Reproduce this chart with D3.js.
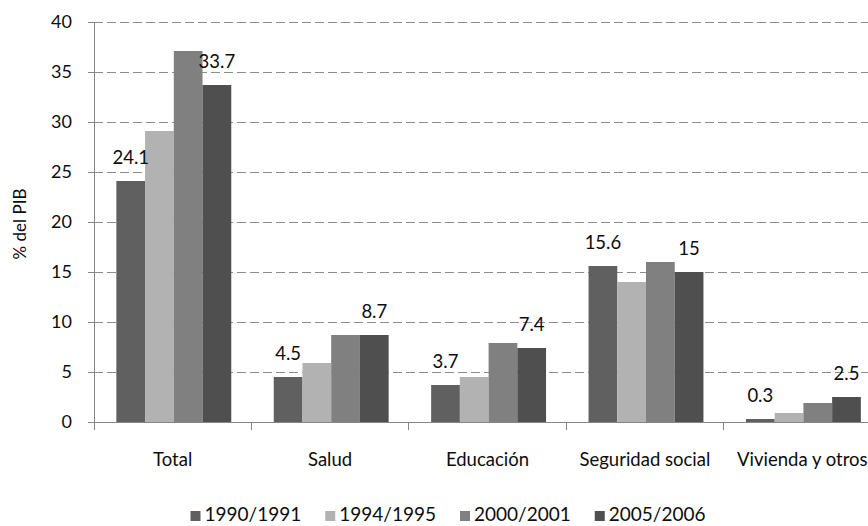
<!DOCTYPE html>
<html><head><meta charset="utf-8">
<script src="https://cdn.jsdelivr.net/npm/d3@7"></script>
<style>
html,body{margin:0;padding:0;background:#fff;overflow:hidden}
text{font-family:Lato,"Open Sans",sans-serif;fill:#0d0d0d}
</style></head>
<body>
<svg id="chart" width="868" height="526"></svg>
<script>
const categories = ["Total","Salud","Educación","Seguridad social","Vivienda y otros"];
const seriesNames = ["1990/1991","1994/1995","2000/2001","2005/2006"];
const v1990 = [24.1, 4.5, 3.7, 15.6, 0.3];
const v1994 = [29.1, 5.9, 4.5, 14.0, 0.9];
const v2000 = [37.1, 8.7, 7.9, 16.0, 1.9];
const v2005 = [33.7, 8.7, 7.4, 15.0, 2.5];
const labels1990 = ["24.1","4.5","3.7","15.6","0.3"];
const labels2005 = ["33.7","8.7","7.4","15","2.5"];
const yTicks = [0,5,10,15,20,25,30,35,40];
const yTitle = "% del PIB";

(function(){
const colors = ["#606060","#b2b2b2","#808080","#4f4f4f"];
const values = [v1990, v1994, v2000, v2005];

const svg = d3.select("#chart");
const mLeft = 94, mTop = 22, mBottom = 422;
const band = 157.4;
const x0 = d3.scaleBand().domain(categories).range([mLeft, mLeft + band*categories.length]).padding(0);
const bw = x0.bandwidth();
const x1 = d3.scaleBand().domain(seriesNames).range([bw*0.142, bw*0.872]).padding(0);
const y = d3.scaleLinear().domain([0,40]).range([mBottom, mTop]);
const axisColor = "#868686";

// gridlines
svg.append("g").selectAll("line").data(yTicks.filter(t=>t>0)).join("line")
  .attr("x1", mLeft).attr("x2", 868).attr("y1", d=>y(d)).attr("y2", d=>y(d))
  .attr("stroke", "#8c8c8c").attr("stroke-width", 1).attr("stroke-dasharray", "9,4")
  .attr("shape-rendering","crispEdges");

// bars
const g = svg.append("g");
categories.forEach((c, ci) => {
  seriesNames.forEach((s, si) => {
    const v = values[si][ci];
    g.append("rect")
      .attr("x", x0(c) + x1(s)).attr("width", x1.bandwidth())
      .attr("y", y(v)).attr("height", y(0) - y(v))
      .attr("fill", colors[si]);
  });
});

// y axis
const yAxis = d3.axisLeft(y).tickValues(yTicks).tickSize(6).tickPadding(16).tickFormat(d3.format("d"));
const ya = svg.append("g").attr("transform", `translate(${mLeft},0)`).call(yAxis);
ya.select(".domain").remove();
ya.selectAll(".tick line").attr("stroke", axisColor).attr("shape-rendering","crispEdges");
ya.selectAll(".tick text").attr("font-size", 18).attr("font-family","Lato").attr("fill","#0d0d0d");
svg.append("line").attr("x1", mLeft).attr("x2", mLeft).attr("y1", mTop).attr("y2", mBottom+8)
  .attr("stroke", axisColor).attr("shape-rendering","crispEdges");

// x axis
svg.append("line").attr("x1", mLeft).attr("x2", 868).attr("y1", mBottom).attr("y2", mBottom)
  .attr("stroke", axisColor).attr("shape-rendering","crispEdges");
const bounds = categories.map(c => x0(c)).concat([x0(categories[categories.length-1]) + bw]);
svg.append("g").selectAll("line").data(bounds).join("line")
  .attr("x1", d=>d).attr("x2", d=>d).attr("y1", mBottom).attr("y2", mBottom+8)
  .attr("stroke", axisColor).attr("shape-rendering","crispEdges");
svg.append("g").selectAll("text").data(categories).join("text")
  .attr("x", d => x0(d) + bw/2).attr("y", 466)
  .attr("text-anchor","middle").attr("font-size", 18.5).text(d=>d);

// y title
svg.append("text").attr("transform", `translate(26,224) rotate(-90)`)
  .attr("text-anchor","middle").attr("font-size", 17).attr("fill","#222").text(yTitle);

// data labels
const lab = svg.append("g");
categories.forEach((c, ci) => {
  [[0, labels1990],[3, labels2005]].forEach(([si, labs]) => {
    const s = seriesNames[si];
    lab.append("text")
      .attr("x", x0(c) + x1(s) + x1.bandwidth()/2)
      .attr("y", y(values[si][ci]) - 17)
      .attr("text-anchor","middle").attr("font-size", 18.5).text(labs[ci]);
  });
});

// legend
const leg = svg.append("g");
const items = seriesNames.map((s, i) => {
  const gi = leg.append("g");
  gi.append("rect").attr("x", 0).attr("y", -10).attr("width", 10).attr("height", 10).attr("fill", colors[i]);
  const t = gi.append("text").attr("x", 14).attr("y", 0).attr("font-size", 19).text(s);
  return {gi, w: 14 + t.node().getComputedTextLength()};
});
const gap = 24;
const total = d3.sum(items, d=>d.w) + gap*(items.length-1);
let cx = 448 - total/2;
items.forEach(it => { it.gi.attr("transform", `translate(${cx},521)`); cx += it.w + gap; });
})();
</script>
</body></html>
